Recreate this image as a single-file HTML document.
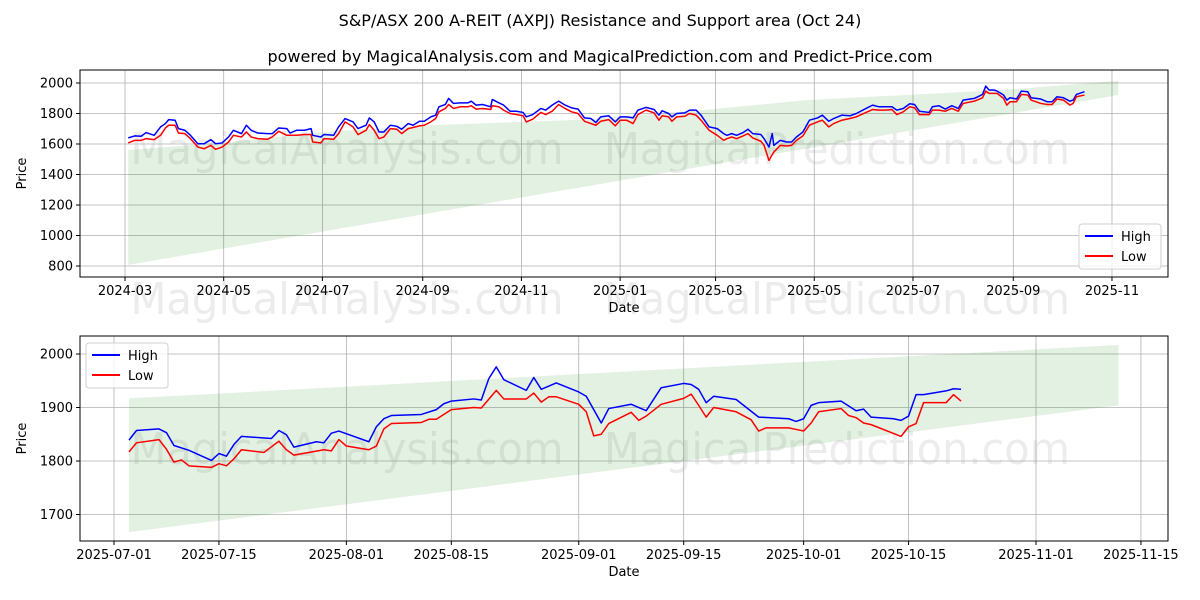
<!DOCTYPE html>
<html><head><meta charset="utf-8"><style>
body{margin:0;background:#fff;}
svg{display:block;font-family:"DejaVu Sans","Liberation Sans",sans-serif;}
</style></head><body>
<svg id="c" width="1200" height="600" viewBox="0 0 1200 600" xmlns="http://www.w3.org/2000/svg">
<text x="600" y="26" text-anchor="middle" font-size="16">S&amp;P/ASX 200 A-REIT (AXPJ) Resistance and Support area (Oct 24)</text>
<text x="600" y="62" text-anchor="middle" font-size="16">powered by MagicalAnalysis.com and MagicalPrediction.com and Predict-Price.com</text>
</svg>
<script>
// ---- top chart data (days since 2024-03-01) ----
const topDays=[2,6,10,13,18,22,25,27,31,33,37,40,45,49,53,56,60,64,67,72,75,78,82,88,91,95,100,102,106,111,115,116,121,123,129,132,136,141,144,149,151,154,157,
160,164,168,171,175,178,182,185,189,192,194,198,200,203,207,212,214,217,221,226,227,231,234,238,242,246,248,252,257,260,264,268,272,276,280,284,288,291,294,299,303,306,310,
314,317,322,327,330,332,336,338,341,346,349,353,356,361,366,370,372,375,378,382,385,388,393,395,398,400,401,405,409,412,415,419,423,428,431,435,438,443,448,452,458,462,466,
470,474,477,481,485,488,491,497,499,503,507,511,515,518,525,530,532,534,537,539,543,545,547,551,554,558,560,566,570,573,576,580,584,586,588,593];
const topHigh=[1640,1653,1651,1675,1657,1712,1734,1760,1756,1701,1690,1662,1602,1602,1629,1602,1607,1646,1690,1668,1723,1690,1672,1668,1668,1705,1701,1672,1690,1690,1701,1657,1646,1662,1657,1712,1767,1745,1701,1723,1771,1745,1679,
1679,1723,1716,1697,1734,1723,1749,1749,1778,1789,1844,1859,1899,1866,1870,1870,1881,1855,1859,1844,1892,1870,1855,1815,1815,1807,1778,1793,1833,1822,1855,1881,1855,1837,1829,1771,1767,1741,1778,1785,1745,1778,1778,
1771,1822,1840,1826,1789,1818,1800,1778,1800,1804,1822,1822,1789,1712,1701,1668,1657,1668,1657,1675,1697,1668,1662,1635,1580,1668,1591,1624,1613,1613,1646,1679,1756,1771,1789,1749,1767,1789,1785,1800,1833,1855,1844,
1844,1844,1822,1833,1864,1859,1815,1807,1844,1851,1829,1851,1833,1888,1899,1925,1980,1954,1954,1947,1921,1888,1903,1895,1947,1943,1903,1895,1877,1877,1910,1903,1881,1888,1925,1943];
const topLow=[1607,1624,1624,1635,1629,1657,1705,1723,1723,1672,1668,1640,1580,1569,1591,1565,1580,1613,1657,1646,1679,1646,1635,1631,1646,1683,1657,1657,1657,1662,1662,1613,1607,1635,1631,1668,1745,1712,1662,1690,1727,1690,1635,
1646,1701,1697,1668,1701,1708,1719,1723,1745,1767,1811,1833,1859,1833,1844,1844,1851,1829,1833,1826,1851,1844,1822,1800,1793,1785,1745,1763,1807,1793,1815,1859,1833,1811,1800,1749,1734,1723,1749,1760,1719,1756,1756,
1734,1793,1822,1804,1756,1785,1778,1749,1778,1782,1800,1789,1756,1690,1657,1624,1635,1646,1635,1653,1668,1640,1618,1591,1492,1530,1547,1591,1587,1591,1624,1653,1723,1745,1756,1712,1734,1756,1767,1778,1807,1826,1822,
1822,1826,1793,1811,1844,1837,1793,1793,1822,1822,1815,1833,1815,1866,1881,1903,1947,1932,1932,1932,1899,1855,1877,1877,1925,1921,1888,1866,1859,1859,1895,1888,1855,1866,1910,1921];
const topBandTopDays=[2,60,127,193,277,358,421,543,614];
const topBandTopVals=[1561,1609,1681,1725,1757,1823,1888,1954,2015];
const topBandBotDays=[2,614];
const topBandBotVals=[807,1921];
const topXTickDays=[0,61,122,184,245,306,365,426,487,549,610];
const topXTickLabels=["2024-03","2024-05","2024-07","2024-09","2024-11","2025-01","2025-03","2025-05","2025-07","2025-09","2025-11"];
const topYTicks=[800,1000,1200,1400,1600,1800,2000];

// ---- bottom chart data (days since 2025-07-01) ----
const botHighDays=[2,3,6,7,8,10,13,14,15,16,17,21,22,23,24,27,28,29,30,34,35,36,37,41,43,44,45,48,49,50,51,52,55,56,57,59,62,63,65,66,69,71,73,76,77,78,79,80,83,86,90,91,92,93,94,97,99,100,101,104,105,106,107,108,111,112,113];
const botHigh=[1839,1857,1860,1853,1829,1820,1801,1814,1809,1831,1846,1842,1857,1849,1826,1836,1834,1852,1856,1836,1864,1879,1885,1887,1896,1907,1912,1916,1914,1954,1976,1952,1932,1956,1934,1946,1929,1921,1871,1898,1906,1894,1937,1945,1943,1934,1909,1921,1915,1882,1879,1874,1879,1904,1909,1912,1894,1897,1882,1879,1876,1884,1924,1924,1931,1935,1934];
const botLowDays=[2,3,6,7,8,9,10,13,14,15,16,17,20,22,23,24,28,29,30,31,34,35,36,37,41,42,43,45,48,49,51,52,55,56,57,58,59,62,63,64,65,66,69,70,71,72,73,76,77,78,79,80,83,85,86,87,90,91,92,93,94,97,98,99,100,101,105,106,107,108,111,112,113];
const botLow=[1817,1834,1840,1822,1798,1802,1791,1788,1795,1791,1804,1821,1816,1837,1821,1811,1821,1819,1840,1828,1821,1828,1860,1870,1872,1878,1878,1896,1900,1899,1932,1916,1916,1927,1910,1920,1920,1906,1892,1847,1850,1870,1891,1876,1884,1895,1906,1917,1925,1904,1882,1900,1892,1877,1856,1862,1862,1859,1856,1871,1892,1898,1885,1881,1871,1868,1846,1864,1870,1909,1909,1924,1912];
const botBandDays=[2,134];
const botBandTop=[1917,2017];
const botBandBot=[1667,1904];
const botXTickDays=[0,14,31,45,62,76,92,106,123,137];
const botXTickLabels=["2025-07-01","2025-07-15","2025-08-01","2025-08-15","2025-09-01","2025-09-15","2025-10-01","2025-10-15","2025-11-01","2025-11-15"];
const botYTicks=[1700,1800,1900,2000];

const NS="http://www.w3.org/2000/svg";
const svg=document.getElementById('c');
function mk(tag,attrs,parent){const e=document.createElementNS(NS,tag);for(const k in attrs)e.setAttribute(k,attrs[k]);(parent||svg).appendChild(e);return e;}

function drawPanel(p){
  const g=mk('g',{});
  
  
  const X=d=>p.x0+(d-p.d0)*p.xs, Y=v=>p.y0+(p.v0-v)*p.ys;
  p.wm.forEach(w=>{const t=mk('text',{x:w[0],y:w[1],'text-anchor':'middle','font-size':44,fill:'#808080','fill-opacity':0.15,textLength:w[3],lengthAdjust:'spacingAndGlyphs'},g);t.textContent=w[2];
    
    });
  p.xt.forEach((d,i)=>{const x=X(d);mk('line',{x1:x,x2:x,y1:p.top,y2:p.bot,stroke:'#b0b0b0','stroke-width':0.8},g);
    mk('line',{x1:x,x2:x,y1:p.bot,y2:p.bot+4,stroke:'#000'},g);
    const t=mk('text',{x:x,y:p.bot+18,'text-anchor':'middle','font-size':13},g);t.textContent=p.xl[i];
    
    });
  p.yt.forEach(v=>{const y=Y(v);mk('line',{x1:p.left,x2:p.right,y1:y,y2:y,stroke:'#b0b0b0','stroke-width':0.8},g);
    mk('line',{x1:p.left-4,x2:p.left,y1:y,y2:y,stroke:'#000'},g);
    const t=mk('text',{x:p.left-7,y:y+4.5,'text-anchor':'end','font-size':13},g);t.textContent=v;
    
    });
  const pts=[];p.btd.forEach((d,i)=>pts.push(X(d)+','+Y(p.btv[i])));
  for(let i=p.bbd.length-1;i>=0;i--)pts.push(X(p.bbd[i])+','+Y(p.bbv[i]));
  const band=mk('polygon',{points:pts.join(' '),fill:'#008000','fill-opacity':0.11},g);
  
  
  const hl=mk('polyline',{points:p.hd.map((d,i)=>X(d)+','+Y(p.hv[i])).join(' '),fill:'none',stroke:'#0000ff','stroke-width':1.5,'stroke-linejoin':'round'},g);
  
  
  const ll=mk('polyline',{points:p.ld.map((d,i)=>X(d)+','+Y(p.lv[i])).join(' '),fill:'none',stroke:'#ff0000','stroke-width':1.5,'stroke-linejoin':'round'},g);
  
  
  mk('rect',{x:p.left,y:p.top,width:p.right-p.left,height:p.bot-p.top,fill:'none',stroke:'#000','stroke-width':1},g);
  const xt=mk('text',{x:(p.left+p.right)/2,y:p.bot+35,'text-anchor':'middle','font-size':13},g);xt.textContent='Date';
  
  
  const cy=(p.top+p.bot)/2;
  const yt=mk('text',{x:26,y:cy,'text-anchor':'middle','font-size':13,transform:`rotate(-90 26 ${cy})`},g);yt.textContent='Price';
  
  
  const L=p.leg;
  const lg=mk('g',{},g);
  
  
  mk('rect',{x:L[0],y:L[1],width:82,height:45,rx:3,fill:'#fff','fill-opacity':0.8,stroke:'#d0d0d0'},lg);
  [['High','#0000ff'],['Low','#ff0000']].forEach((s,i)=>{const yy=L[1]+12+i*20;
    mk('line',{x1:L[0]+6,x2:L[0]+34,y1:yy,y2:yy,stroke:s[1],'stroke-width':2},lg);
    const t=mk('text',{x:L[0]+42,y:yy+5,'font-size':13},lg);t.textContent=s[0];
    
    });
}

drawPanel({name:'top-chart',left:80,right:1168,top:70,bot:277,x0:125,d0:0,xs:1.618,y0:83,v0:2000,ys:0.1525,
  xt:topXTickDays,xl:topXTickLabels,yt:topYTicks,btd:topBandTopDays,btv:topBandTopVals,bbd:topBandBotDays,bbv:topBandBotVals,
  hd:topDays,hv:topHigh,ld:topDays,lv:topLow,leg:[1079,224],
  wm:[[347,164,'MagicalAnalysis.com',433],[837,164,'MagicalPrediction.com',466],[347,314,'MagicalAnalysis.com',433],[837,314,'MagicalPrediction.com',466]]});
drawPanel({name:'bottom-chart',left:80,right:1168,top:336,bot:541,x0:114,d0:0,xs:7.496,y0:354,v0:2000,ys:0.535,
  xt:botXTickDays,xl:botXTickLabels,yt:botYTicks,btd:botBandDays,btv:botBandTop,bbd:botBandDays,bbv:botBandBot,
  hd:botHighDays,hv:botHigh,ld:botLowDays,lv:botLow,leg:[86,343],
  wm:[[347,464,'MagicalAnalysis.com',433],[837,464,'MagicalPrediction.com',466]]});
</script>
</body></html>
